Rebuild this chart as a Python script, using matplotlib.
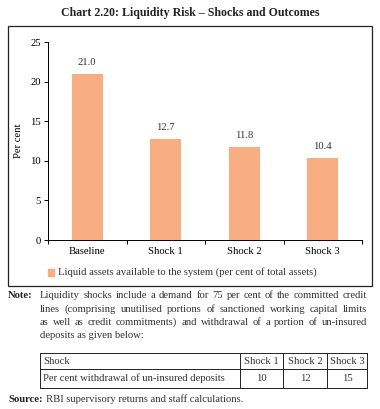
import matplotlib.pyplot as plt
import numpy as np
from matplotlib.patches import Rectangle
from matplotlib.lines import Line2D

# data
categories = ["Baseline", "Shock 1", "Shock 2", "Shock 3"]
liquid_assets = [21.0, 12.7, 11.8, 10.4]
legend_label = "Liquid assets available to the system (per cent of total assets)"

table_header = ["Shock", "Shock 1", "Shock 2", "Shock 3"]
table_row = ["Per cent withdrawal of un-insured deposits", "10", "12", "15"]

note_lines = [
    "Liquidity shocks include a demand for 75 per cent of the committed credit",
    "lines (comprising unutilised portions of sanctioned working capital limits",
    "as well as credit commitments) and withdrawal of a portion of un-insured",
    "deposits as given below:",
]

W, H = 380, 409
plt.rcParams['font.family'] = ['Liberation Serif', 'DejaVu Serif']
fig = plt.figure(figsize=(W / 100, H / 100), dpi=100)


def fx(x):
    return x / W


def fy(y):
    return 1 - y / H


bar_col = "#F8AE80"
fs = 7.7

# title and outer frame
fig.text(fx(190), fy(13), "Chart 2.20: Liquidity Risk \u2013 Shocks and Outcomes",
         ha="center", va="center", fontsize=8.6, fontweight="bold", color="#222222")
fig.patches.append(Rectangle((fx(8), fy(286)), fx(364), (286 - 26) / H,
                             transform=fig.transFigure, fill=False,
                             edgecolor="#222222", lw=0.9))

# bar chart
ax = fig.add_axes([fx(48), fy(240), fx(314), (240 - 42) / H])
pos = np.arange(len(categories)) + 0.5
ax.bar(pos, liquid_assets, width=0.4, color=bar_col)
for p, v in zip(pos, liquid_assets):
    ax.annotate(f"{v:.1f}", (p, v), xytext=(0, 5), textcoords="offset points",
                ha="center", va="bottom", fontsize=fs, color="#333333")
ax.set_xlim(0, len(categories))
ax.set_ylim(0, 25)
ax.set_yticks([0, 5, 10, 15, 20, 25])
ax.set_xticks(np.arange(len(categories) + 1))
ax.set_xticklabels([])
ax.set_xticks(pos, minor=True)
ax.set_xticklabels(categories, minor=True)
ax.tick_params(axis="x", which="minor", length=0, labelsize=fs, pad=5)
ax.tick_params(axis="x", which="major", length=3, width=0.7)
ax.tick_params(axis="y", length=3, width=0.7, labelsize=fs, pad=2)
for s in ["top", "right"]:
    ax.spines[s].set_visible(False)
for s in ["left", "bottom"]:
    ax.spines[s].set_linewidth(0.7)
ax.set_ylabel("Per cent", fontsize=fs, labelpad=5)

# legend
fig.patches.append(Rectangle((fx(48), fy(276)), fx(6), 7 / H,
                             transform=fig.transFigure, color=bar_col))
fig.text(fx(58), fy(272.5), legend_label, ha="left", va="center", fontsize=fs,
         color="#333333")

# note (justified lines, last line left aligned)
fig.text(fx(8), fy(296), "Note:", ha="left", va="center", fontsize=fs,
         fontweight="bold", color="#222222")
renderer = fig.canvas.get_renderer()
x0, x1 = 40, 367
for i, line in enumerate(note_lines):
    yy = fy(296 + 13.3 * i)
    if i == len(note_lines) - 1:
        fig.text(fx(x0), yy, line, ha="left", va="center", fontsize=fs, color="#333333")
        continue
    words = line.split()
    items = [fig.text(0, yy, w, ha="left", va="center", fontsize=fs, color="#333333")
             for w in words]
    widths = [t.get_window_extent(renderer).width for t in items]
    gap = (x1 - x0 - sum(widths)) / (len(words) - 1)
    xc = x0
    for t, wd in zip(items, widths):
        t.set_x(fx(xc))
        xc += wd + gap

# table
cols = [40, 240, 283, 327, 367]
rows = [353, 369, 388]
for y in rows:
    fig.lines.append(Line2D([fx(cols[0]), fx(cols[-1])], [fy(y), fy(y)],
                            transform=fig.transFigure, color="#222222", lw=0.7))
for x in cols:
    fig.lines.append(Line2D([fx(x), fx(x)], [fy(rows[0]), fy(rows[-1])],
                            transform=fig.transFigure, color="#222222", lw=0.7))
for r, cells in enumerate([table_header, table_row]):
    yc = (rows[r] + rows[r + 1]) / 2
    for c, txt in enumerate(cells):
        if c == 0:
            fig.text(fx(cols[0] + 3), fy(yc), txt, ha="left", va="center",
                     fontsize=fs, color="#333333")
        else:
            fig.text(fx((cols[c] + cols[c + 1]) / 2), fy(yc), txt, ha="center",
                     va="center", fontsize=fs, color="#333333")

fig.text(fx(8), fy(399), "Source:", ha="left", va="center", fontsize=fs,
         fontweight="bold", color="#222222")
fig.text(fx(46), fy(399), "RBI supervisory returns and staff calculations.",
         ha="left", va="center", fontsize=fs, color="#333333")

plt.savefig("out.png", dpi=100)
